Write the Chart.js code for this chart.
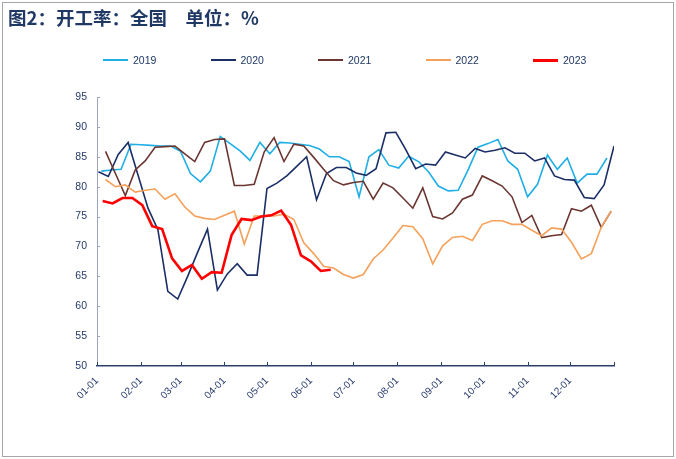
<!DOCTYPE html>
<html>
<head>
<meta charset="utf-8">
<script src="https://cdn.jsdelivr.net/npm/chart.js@4.4.0/dist/chart.umd.min.js"></script>
<style>
  html, body { margin: 0; padding: 0; background: #fff; }
  #wrap { position: relative; width: 676px; height: 459px; overflow: hidden; }
  #frame { position: absolute; left: 2px; top: 2px; width: 670px; height: 453px; border: 1px solid #A6A6A6; box-sizing: content-box; pointer-events: none; }
  #title { position: absolute; left: 8px; top: 4px; font: bold 18.5px "Noto Sans CJK SC", sans-serif; color: #1F3864; white-space: pre; }
  #legend { position: absolute; left: 0; top: 0; }
  .li { position: absolute; top: 53px; height: 14px; display: flex; align-items: center; white-space: nowrap; }
  .li .ln { display: inline-block; width: 25px; }
  .li .tx { margin-left: 5px; font: 10.5px "Liberation Sans", Arial, sans-serif; color: #1F3864; }
  #cbox { position: absolute; left: 0; top: 0; width: 676px; height: 459px; }
</style>
</head>
<body>
<div id="wrap">
  <div id="cbox"><canvas id="c"></canvas></div>
  <div id="title">图2：开工率：全国　单位：%</div>
  <div id="legend"></div>
  <div id="frame"></div>
</div>
<script>
// ---- data ----
const monthTicks = [0, 31, 59, 90, 120, 151, 181, 212, 243, 273, 304, 334, 365];
const monthLabels = ['01-01','02-01','03-01','04-01','05-01','06-01','07-01','08-01','09-01','10-01','11-01','12-01',''];
const seriesNames = ['2019', '2020', '2021', '2022', '2023'];
const startDays = [3, 1, 6, 6, 4];   // day-of-year of each series' first weekly reading
const weekStep = 7;

const v2019 = [82.6, 82.8, 82.9, 87.1, 87.0, 86.9, 86.8, 86.8, 85.9, 82.2, 80.8, 82.6, 88.4, 87.2, 86.0, 84.4, 87.4, 85.5, 87.4, 87.3, 87.1, 86.9, 86.3, 85.0, 85.0, 84.2, 78.3, 85.0, 86.2, 83.6, 83.1, 85.1, 84.2, 82.5, 80.1, 79.3, 79.4, 82.8, 86.6, 87.2, 87.9, 84.3, 82.9, 78.3, 80.4, 85.3, 82.9, 84.8, 80.6, 82.1, 82.1, 84.8];
const v2020 = [82.5, 81.7, 85.4, 87.4, 81.9, 76.4, 72.8, 62.5, 61.2, 65.0, 69.0, 72.9, 62.7, 65.4, 67.1, 65.2, 65.2, 79.7, 80.6, 81.8, 83.4, 85.0, 77.8, 82.2, 83.2, 83.2, 82.3, 81.9, 83.0, 89.0, 89.1, 86.2, 83.0, 83.8, 83.6, 85.8, 85.3, 84.8, 86.4, 85.8, 86.1, 86.5, 85.6, 85.6, 84.3, 84.8, 81.8, 81.2, 81.1, 78.2, 78.0, 80.3, 86.8];
const v2021 = [85.9, 82.2, 78.5, 82.8, 84.3, 86.6, 86.7, 86.8, 85.5, 84.2, 87.4, 87.9, 88.0, 80.2, 80.2, 80.4, 85.8, 88.2, 84.2, 87.1, 86.8, 84.9, 82.9, 81.0, 80.3, 80.7, 80.9, 77.9, 80.6, 79.8, 78.1, 76.4, 79.8, 75.0, 74.6, 75.6, 77.9, 78.6, 81.8, 81.0, 80.1, 78.3, 74.0, 75.2, 71.5, 71.8, 72.0, 76.3, 75.9, 76.9, 73.2, 75.9];
const v2022 = [81.2, 80.0, 80.3, 79.1, 79.4, 79.6, 77.9, 78.8, 76.6, 75.1, 74.7, 74.5, 75.2, 75.9, 70.4, 75.1, 75.1, 75.1, 75.4, 74.5, 70.6, 68.8, 66.7, 66.4, 65.3, 64.7, 65.3, 67.9, 69.4, 71.4, 73.5, 73.3, 71.3, 67.1, 70.1, 71.5, 71.7, 71.0, 73.7, 74.3, 74.3, 73.7, 73.7, 72.7, 71.8, 73.1, 72.9, 70.7, 67.9, 68.8, 73.2, 75.9];
const v2023 = [77.6, 77.2, 78.1, 78.1, 76.9, 73.4, 72.9, 68.0, 65.9, 66.9, 64.6, 65.7, 65.6, 71.9, 74.6, 74.4, 75.0, 75.2, 76.0, 73.6, 68.5, 67.5, 65.9, 66.1];

const yTicks = { min: 50, max: 95, step: 5 };

// ---- styles ----
const colors = ['#1FAEE6', '#1B2F66', '#6B3631', '#F5A15B', '#FF0000'];
const widths = [1.6, 1.6, 1.6, 1.6, 2.6];
const allValues = [v2019, v2020, v2021, v2022, v2023];

const datasets = seriesNames.map((name, k) => ({
  label: name,
  data: allValues[k].map((v, i) => ({ x: startDays[k] + weekStep * i, y: v })),
  borderColor: colors[k],
  backgroundColor: colors[k],
  borderWidth: widths[k],
  pointRadius: 0,
  pointHoverRadius: 0,
  tension: 0,
  fill: false,
  order: seriesNames.length - k
}));

const innerTicks = {
  id: 'innerTicks',
  afterDraw(chart) {
    const ctx = chart.ctx;
    const xs = chart.scales.x, ys = chart.scales.y;
    ctx.save();
    ctx.strokeStyle = '#2B3F6B';
    ctx.lineWidth = 1;
    xs.ticks.forEach((t, i) => {
      const px = Math.round(xs.getPixelForTick(i)) + 0.5;
      ctx.beginPath();
      ctx.moveTo(px, xs.top);
      ctx.lineTo(px, xs.top - 4);
      ctx.stroke();
    });
    ctx.strokeStyle = '#9AA6C2';
    ys.ticks.forEach((t, i) => {
      const py = Math.round(ys.getPixelForTick(i)) + 0.5;
      ctx.beginPath();
      ctx.moveTo(ys.right, py);
      ctx.lineTo(ys.right + 3, py);
      ctx.stroke();
    });
    ctx.restore();
  }
};

const chart = new Chart(document.getElementById('c'), {
  type: 'line',
  data: { datasets },
  options: {
    responsive: true,
    maintainAspectRatio: false,
    animation: false,
    events: [],
    layout: { padding: { top: 97, left: 0, right: 62, bottom: 0 } },
    plugins: { legend: { display: false }, title: { display: false }, tooltip: { enabled: false } },
    scales: {
      x: {
        type: 'linear',
        min: 0,
        max: 365,
        afterBuildTicks: (s) => { s.ticks = monthTicks.map(v => ({ value: v })); },
        afterFit: (s) => { s.height = 93; },
        grid: { display: false, drawTicks: false },
        border: { display: true, color: '#2B3F6B', width: 1.6 },
        ticks: {
          autoSkip: false,
          minRotation: 45,
          maxRotation: 45,
          padding: 9,
          color: '#24396B',
          font: { family: '"Liberation Sans", Arial, sans-serif', size: 10 },
          callback: (val, idx) => monthLabels[idx]
        }
      },
      y: {
        min: yTicks.min,
        max: yTicks.max,
        afterFit: (s) => { s.width = 97; },
        grid: { display: false, drawTicks: false },
        border: { display: true, color: '#9AA6C2', width: 1 },
        ticks: {
          stepSize: yTicks.step,
          padding: 10,
          color: '#24396B',
          font: { family: '"Liberation Sans", Arial, sans-serif', size: 10.5 }
        }
      }
    }
  },
  plugins: [innerTicks]
});

// ---- legend (HTML, from the datasets) ----
const legend = document.getElementById('legend');
chart.data.datasets.forEach((ds, k) => {
  const item = document.createElement('div');
  item.className = 'li';
  item.style.left = (103 + k * 107.5) + 'px';
  const ln = document.createElement('span');
  ln.className = 'ln';
  ln.style.height = (ds.borderWidth > 2 ? 3 : 2) + 'px';
  ln.style.background = ds.borderColor;
  const tx = document.createElement('span');
  tx.className = 'tx';
  tx.textContent = ds.label;
  item.appendChild(ln);
  item.appendChild(tx);
  legend.appendChild(item);
});
</script>
</body>
</html>
